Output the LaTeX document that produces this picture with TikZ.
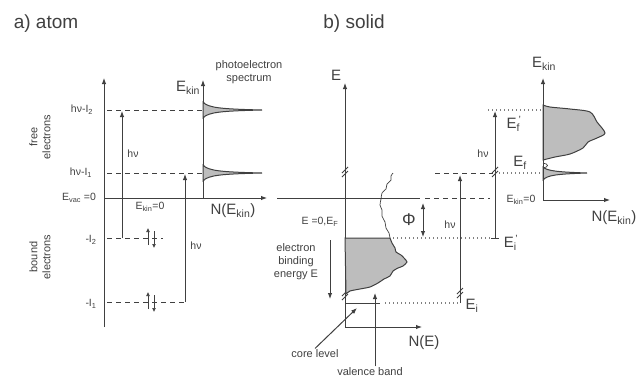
\documentclass[tikz,border=0pt]{standalone}
\usepackage{fontspec}
\setmainfont{Liberation Sans}
\usetikzlibrary{arrows.meta,positioning,calc}
\definecolor{ink}{gray}{0.25}
\definecolor{shade}{gray}{0.74}
\newcommand{\breakmark}[1]{\draw[line width=0.8pt] ($(#1)+(-3,5)$) -- ++(6,-6) ($(#1)+(-3,1)$) -- ++(6,-6);}
\newcommand{\Eprime}[1]{E\textsubscript{#1}\kern-0.1em\textsuperscript{'}}

\begin{document}
\begin{tikzpicture}[x=1pt, y=-1pt, >={Latex[length=6pt,width=4.5pt]}, line width=1pt, ink,
  every node/.style={text=ink, inner sep=1pt},
  lblS/.style={font=\fontsize{10.5}{12}\selectfont},
  lblM/.style={font=\fontsize{11}{13}\selectfont, align=center},
  lblL/.style={font=\fontsize{15}{17}\selectfont},
  titl/.style={font=\fontsize{19}{22}\selectfont},
  lvl/.style={dash pattern=on 5pt off 4pt},
  dots/.style={line width=1.1pt, dash pattern=on 1pt off 3pt, gray},
  spec/.style={draw=ink, fill=shade, line width=1pt},
  spin/.style={->, line width=0.7pt, >={Latex[length=4pt,width=4pt]}}]
  \useasboundingbox (0,0) rectangle (640,378);

  % a) atom
  \node[titl] (atomtitle) at (46,24) {a) atom};
  \coordinate (aO) at (104,198);
  \coordinate (aK) at (203,198);
  \draw[->] (104,327) -- (104,78);
  \draw[->] (aO) -- (267,198);
  \draw[->] (aK) -- (203,80);
  \node[lblL] (aEkin) at (188,88) {E\textsubscript{kin}};
  \node[lblM] (aspec) at (249,72) {photoelectron\\spectrum};
  \node[lblL] (aNE) at (233,211) {N(E\textsubscript{kin})};
  \node[lblS] (aEvac) at (79,198) {E\textsubscript{vac} =0};
  \node[lblS] (aEk0) at (150,207) {E\textsubscript{kin}=0};
  \node[lblM, rotate=90] (free) at (40,137) {free\\electrons};
  \node[lblM, rotate=90] (bound) at (40,257) {bound\\electrons};

  \draw[lvl] (107,110) -- (203,110);
  \draw[lvl] (107,173) -- (203,173);
  \node[lblS] (aI2up) at (82,110) {hν-I\textsubscript{2}};
  \node[lblS] (aI1up) at (81,173) {hν-I\textsubscript{1}};
  \foreach \lv in {110,173}
    \filldraw[spec] (203,\lv-8) .. controls (208,\lv-2) and (222,\lv-1) .. (262,\lv)
      .. controls (222,\lv+1) and (208,\lv+2) .. (203,\lv+8) -- cycle;

  \draw[lvl] (107,238) -- (163,238);
  \draw[lvl] (107,302) -- (185,302);
  \node[lblS] (aI2) at (91,240) {-I\textsubscript{2}};
  \node[lblS] (aI1) at (91,304) {-I\textsubscript{1}};
  \draw[->] (122,238) -- (122,111);
  \draw[->] (185,302) -- (185,174);
  \node[lblS] (ahv1) at (133,154) {hν};
  \node[lblS] (ahv2) at (196,246) {hν};
  \foreach \lv in {238,302} {
    \draw[spin] (148,\lv+7) -- (148,\lv-10);
    \draw[spin] (154,\lv-7) -- (154,\lv+10);
  }

  % b) solid
  \node[titl] (solidtitle) at (354,24) {b) solid};
  \coordinate (bO) at (345,327);
  \draw[->] (bO) -- (345,83);
  \draw[->] (bO) -- (422,327);
  \node[lblL] (bE) at (336,75) {E};
  \node[lblL] (bNE) at (424,343) {N(E)};
  \breakmark{345,172}
  \breakmark{345,295}

  \draw (277,198) -- (420,198);
  \draw[lvl] (425,198) -- (490,198);
  \node[lblS] (bEk0) at (521,200) {E\textsubscript{kin}=0};

  \draw[line width=0.7pt] plot[smooth, tension=0.4] coordinates {(393,173) (391,176) (391,180) (387,184) (386,189) (382,193) (381,199) (380,205) (382,210) (382,216) (385,222) (386,228) (389,233) (390,238)};
  \filldraw[spec] (345,238) -- (390,238) -- plot[smooth, tension=0.4] coordinates {(390,238) (392,243) (395,248) (396,252) (401,255) (404,258) (407,262) (403,266) (398,268) (393,271) (390,276) (384,279) (378,283) (370,287) (360,289) (350,291) (346,294)} -- cycle;

  \node[lblS] (bEF) at (320,222) {E =0,E\textsubscript{F}};
  \draw[->] (330,240) -- (330,299);
  \node[lblM] (bind) at (296,262) {electron\\binding\\energy E};

  \draw[<->] (423,203) -- (423,237);
  \node[font=\fontsize{17}{19}\selectfont] (phi) at (409,220) {Φ};

  \draw (345,303) -- (380,303);
  \draw[dots] (385,303) -- (458,303);
  \draw[dots] (393,238) -- (493,238);
  \draw (491,238) -- (499,238);
  \node[lblL] (bEi) at (472,306) {E\textsubscript{i}};
  \node[lblL] (bEip) at (511,243) {\Eprime{i}};

  \draw[->] (460,303) -- (460,175);
  \breakmark{460,293}
  \node[lblS] (bhv1) at (450,225) {hν};
  \draw[lvl] (435,173) -- (493,173);
  \draw[dots] (499,173) -- (543,173);
  \draw[->] (495,238) -- (495,111);
  \breakmark{495,172}
  \node[lblS] (bhv2) at (483,154) {hν};
  \draw[dots] (488,110) -- (543,110);
  \node[lblL] (bEf) at (520,163) {E\textsubscript{f}};
  \node[lblL] (bEfp) at (514,124) {\Eprime{f}};

  \node[lblM] (corelbl) at (315,354) {core level};
  \coordinate (coretip) at (357,308);
  \draw[->] (corelbl.north) -- (coretip);
  \node[lblM] (vallbl) at (370,372) {valence band};
  \coordinate (valtip) at (375,293);
  \draw[->] (vallbl.north -| valtip) -- (valtip);

  \coordinate (cO) at (543,200);
  \filldraw[spec] (543,105) -- plot[smooth] coordinates {(543,105) (550,107) (570,109) (590,112) (597,122) (605,133) (597,138) (588,142) (583,148) (570,154) (555,157) (543,160)} -- cycle;
  \draw[line width=0.7pt] (543,163) .. controls (549,164) and (549,167) .. (543,168);
  \filldraw[spec] (543,167) .. controls (547,171) and (558,172) .. (587,173)
    .. controls (558,174) and (547,175) .. (543,180) -- cycle;
  \draw[->] (cO) -- (543,78);
  \draw[->] (cO) -- (610,200);
  \node[lblL] (cEkin) at (544,64) {E\textsubscript{kin}};
  \node[lblL] (cNE) at (614,218) {N(E\textsubscript{kin})};
\end{tikzpicture}
\end{document}
